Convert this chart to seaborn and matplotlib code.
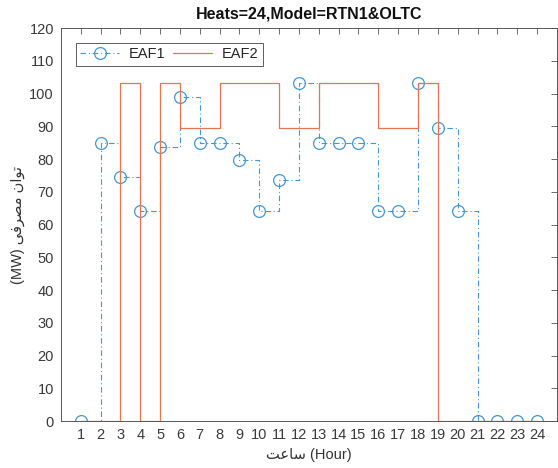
import numpy as np
import pandas as pd
import seaborn as sns
import matplotlib
import matplotlib.pyplot as plt

hours = list(range(1, 25))
eaf1 = [0, 85, 74.5, 64, 83.6, 98.8, 85, 85, 79.8, 64, 73.6, 103.3,
        85, 85, 85, 64, 64, 103.3, 89.5, 64, 0, 0, 0, 0]
eaf2 = [0, 0, 103.3, 0, 103.3, 89.5, 89.5, 103.3, 103.3, 103.3, 89.5, 89.5,
        103.3, 103.3, 103.3, 89.5, 89.5, 103.3, 0, 0, 0, 0, 0, 0]
title = "Heats=24,Model=RTN1&OLTC"
# arabic in presentation forms, visual order (matplotlib has no shaping)
ylab = "(MW) " + "\uFEF0\uFED3\uFEAE\uFEBC\uFEE3 \uFEE5\uFE8D\uFEEE\uFE97"
xlab = "\uFE96\uFECB\uFE8E\uFEB3 (Hour)"

df = pd.DataFrame({"hour": hours, "EAF1": eaf1, "EAF2": eaf2})

sns.set_style("white")
plt.rcParams['font.family'] = ['Liberation Sans', 'DejaVu Sans']
plt.rcParams['font.size'] = 10.5

blue = "#4298d8"
orange = "#e57650"
grey = "#555555"

fig = plt.figure(figsize=(5.58, 4.68), dpi=100)
ax = fig.add_axes([0.109, 0.1004, 0.889, 0.8396])

sns.lineplot(data=df, x="hour", y="EAF1", ax=ax, drawstyle="steps-post",
             color=blue, lw=0.8, linestyle=(0, (5, 2.5, 1, 2.5)),
             marker="o", markersize=8.5, markerfacecolor="none",
             markeredgecolor=blue, markeredgewidth=0.9, label="EAF1")
sns.lineplot(data=df, x="hour", y="EAF2", ax=ax, drawstyle="steps-post",
             color=orange, lw=0.9, label="EAF2")

ax.set_xlim(0, 25)
ax.set_ylim(0, 120)
ax.set_xticks(hours)
ax.set_yticks(np.arange(0, 121, 10))
ax.tick_params(direction="in", length=4, width=0.6, color=grey,
               labelcolor="#3a3a3a", labelsize=10.5, top=True, right=True,
               pad=5)
for sp in ax.spines.values():
    sp.set_color(grey)
    sp.set_linewidth(0.7)

ax.set_title(title, fontsize=11.5, fontweight="bold", color="#111111", pad=7)
ax.set_xlabel(xlab, fontsize=10.5, color="#333333", labelpad=4)
ax.set_ylabel(ylab, fontsize=10.5, color="#333333", labelpad=3)

leg = ax.legend(loc="upper left", ncol=2, frameon=True, fancybox=False,
                fontsize=10.5, handlelength=2.7, columnspacing=0.5,
                borderpad=0.3, handletextpad=0.65, borderaxespad=0,
                bbox_to_anchor=(0.030, 0.962))
leg.get_frame().set_edgecolor("#333333")
leg.get_frame().set_linewidth(0.7)

fig.savefig("out.png", dpi=100)
